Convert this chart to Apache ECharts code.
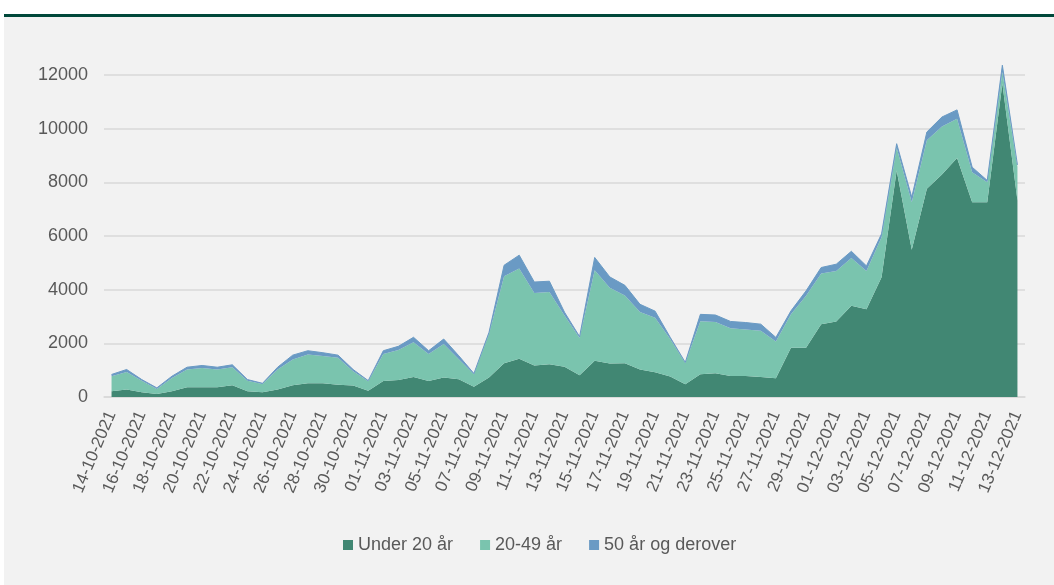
<!DOCTYPE html>
<html>
<head>
<meta charset="utf-8">
<script src="https://cdn.jsdelivr.net/npm/echarts@6/dist/echarts.min.js"></script>
<style>
  html, body { margin: 0; padding: 0; background: #ffffff; }
  #chart { width: 1054px; height: 585px; }
</style>
</head>
<body>
<div id="chart"></div>
<script>
var dates = [
    '14-10-2021', '15-10-2021', '16-10-2021', '17-10-2021', '18-10-2021', '19-10-2021', '20-10-2021',
    '21-10-2021', '22-10-2021', '23-10-2021', '24-10-2021', '25-10-2021', '26-10-2021', '27-10-2021',
    '28-10-2021', '29-10-2021', '30-10-2021', '31-10-2021', '01-11-2021', '02-11-2021', '03-11-2021',
    '04-11-2021', '05-11-2021', '06-11-2021', '07-11-2021', '08-11-2021', '09-11-2021', '10-11-2021',
    '11-11-2021', '12-11-2021', '13-11-2021', '14-11-2021', '15-11-2021', '16-11-2021', '17-11-2021',
    '18-11-2021', '19-11-2021', '20-11-2021', '21-11-2021', '22-11-2021', '23-11-2021', '24-11-2021',
    '25-11-2021', '26-11-2021', '27-11-2021', '28-11-2021', '29-11-2021', '30-11-2021', '01-12-2021',
    '02-12-2021', '03-12-2021', '04-12-2021', '05-12-2021', '06-12-2021', '07-12-2021', '08-12-2021',
    '09-12-2021', '10-12-2021', '11-12-2021', '12-12-2021', '13-12-2021'
];

var under20 = [
    210, 275, 175, 110, 210, 360, 360, 360, 435, 210,
    175, 275, 435, 510, 510, 460, 425, 235, 600, 635,
    750, 600, 725, 660, 385, 725, 1260, 1425, 1175, 1225,
    1125, 810, 1350, 1250, 1260, 1025, 925, 760, 475, 850,
    885, 785, 785, 745, 700, 1840, 1840, 2710, 2810, 3400,
    3270, 4460, 8440, 5490, 7760, 8290, 8910, 7260, 7260, 11680, 7320
];

var age20to49 = [
    565, 660, 435, 190, 500, 665, 725, 665, 675, 400,
    310, 750, 965, 1075, 1015, 1000, 535, 350, 1000, 1115,
    1290, 1000, 1250, 750, 465, 1625, 3240, 3360, 2700, 2690,
    1910, 1390, 3375, 2825, 2525, 2140, 2025, 1400, 790, 1970,
    1910, 1780, 1730, 1720, 1370, 1245, 1930, 1890, 1890, 1780,
    1430, 1495, 850, 1770, 1805, 1795, 1455, 1120, 745, 435, 1260
];

var age50plus = [
    65, 90, 40, 40, 65, 85, 90, 85, 90, 40,
    25, 85, 160, 140, 125, 100, 65, 25, 125, 140,
    185, 125, 185, 125, 25, 60, 410, 500, 410, 400,
    125, 50, 475, 400, 375, 290, 250, 65, 25, 260,
    260, 250, 260, 250, 150, 125, 185, 225, 250, 250,
    185, 125, 150, 185, 310, 350, 335, 185, 65, 250, 70
];

var seriesNames = ['Under 20 år', '20-49 år', '50 år og derover'];
var seriesColors = ['#418773', '#7AC4AE', '#6A9AC4'];

var chart = echarts.init(document.getElementById('chart'));
var font = '"Liberation Sans", Arial, sans-serif';

function areaSeries(i, values, lineWidth) {
    return {
        name: seriesNames[i],
        type: 'line',
        stack: 'total',
        data: values,
        symbol: 'none',
        clip: false,
        itemStyle: { color: seriesColors[i] },
        lineStyle: { width: lineWidth, color: seriesColors[i] },
        areaStyle: { color: seriesColors[i], opacity: 1 }
    };
}

var option = {
    backgroundColor: '#ffffff',
    animation: false,
    textStyle: { fontFamily: font },
    graphic: [
        {
            type: 'rect',
            z: -10,
            shape: { x: 4, y: 17, width: 1050, height: 568 },
            style: { fill: '#F2F2F2' }
        },
        {
            type: 'rect',
            z: -10,
            shape: { x: 4, y: 14, width: 1050, height: 3 },
            style: { fill: '#00483A' }
        }
    ],
    color: seriesColors,
    grid: {
        left: 104,
        right: 29,
        top: 75,
        bottom: 188
    },
    legend: {
        data: seriesNames,
        left: 338,
        top: 531,
        icon: 'rect',
        itemWidth: 10,
        itemHeight: 10,
        itemGap: 27,
        textStyle: { color: '#595959', fontSize: 18, fontFamily: font }
    },
    xAxis: {
        type: 'category',
        data: dates,
        boundaryGap: true,
        axisLine: { lineStyle: { color: '#D9D9D9', width: 1.5 } },
        axisTick: { interval: 1, length: 6, lineStyle: { color: '#D9D9D9', width: 1.5 } },
        axisLabel: {
            interval: 1,
            rotate: 67,
            margin: 15,
            color: '#595959',
            fontSize: 17,
            fontFamily: font
        }
    },
    yAxis: {
        type: 'value',
        min: 0,
        max: 12000,
        interval: 2000,
        axisLine: { show: false },
        axisTick: { show: false },
        axisLabel: {
            color: '#595959',
            fontSize: 18,
            margin: 16,
            fontFamily: font,
            formatter: function (v) { return String(v); }
        },
        splitLine: { lineStyle: { color: '#D9D9D9', width: 1.5 } }
    },
    series: [
        areaSeries(0, under20, 0),
        areaSeries(1, age20to49, 0),
        areaSeries(2, age50plus, 1)
    ]
};

chart.setOption(option);
</script>
</body>
</html>
